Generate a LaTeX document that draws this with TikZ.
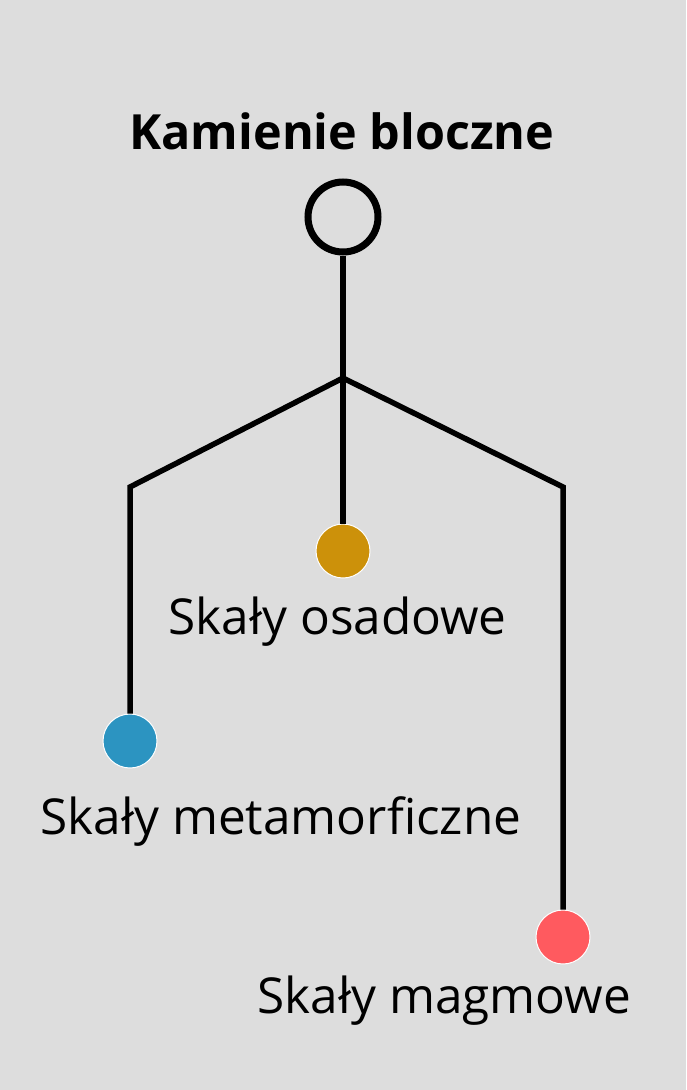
\documentclass[tikz,border=0pt]{standalone}
\usepackage{fontspec}
\setmainfont{Open Sans}
\definecolor{bgray}{HTML}{DDDDDD}
\definecolor{metablue}{HTML}{2C94C1}
\definecolor{osadgold}{HTML}{CC910A}
\definecolor{magmared}{HTML}{FF5A5F}
\begin{document}
\begin{tikzpicture}[x=1pt,y=-1pt,line width=5.5pt,
  dot/.style={circle,draw=white,line width=1pt,minimum size=54pt,inner sep=0pt},
  lbl/.style={font=\fontsize{49.5}{56}\selectfont,anchor=base west,inner sep=0pt}]
\fill[bgray](0,0) rectangle (686,1090);
\node[font=\bfseries\fontsize{48.5}{56}\selectfont,anchor=base,inner sep=0pt] (title) at (342,149) {Kamienie bloczne};
\node[circle,draw,line width=7pt,minimum size=70pt,inner sep=0pt] (root) at (343,217) {};
\coordinate (fork) at (343,378);
\coordinate (lcorner) at (130,487);
\coordinate (rcorner) at (563,487);
% leaves
\node[dot,fill=osadgold] (osad) at (343,551) {};
\node[dot,fill=metablue] (meta) at (130,741) {};
\node[dot,fill=magmared] (magma) at (563,937) {};
\node[lbl] (osadlbl) at (166,634) {Skały osadowe};
\node[lbl] (metalbl) at (38,834) {Skały metamorficzne};
\node[lbl] (magmalbl) at (255,1013) {Skały magmowe};
% branches
\draw (root)--(fork)--(osad);
\draw (fork)--(lcorner)--(meta);
\draw (fork)--(rcorner)--(magma);
\end{tikzpicture}
\end{document}
